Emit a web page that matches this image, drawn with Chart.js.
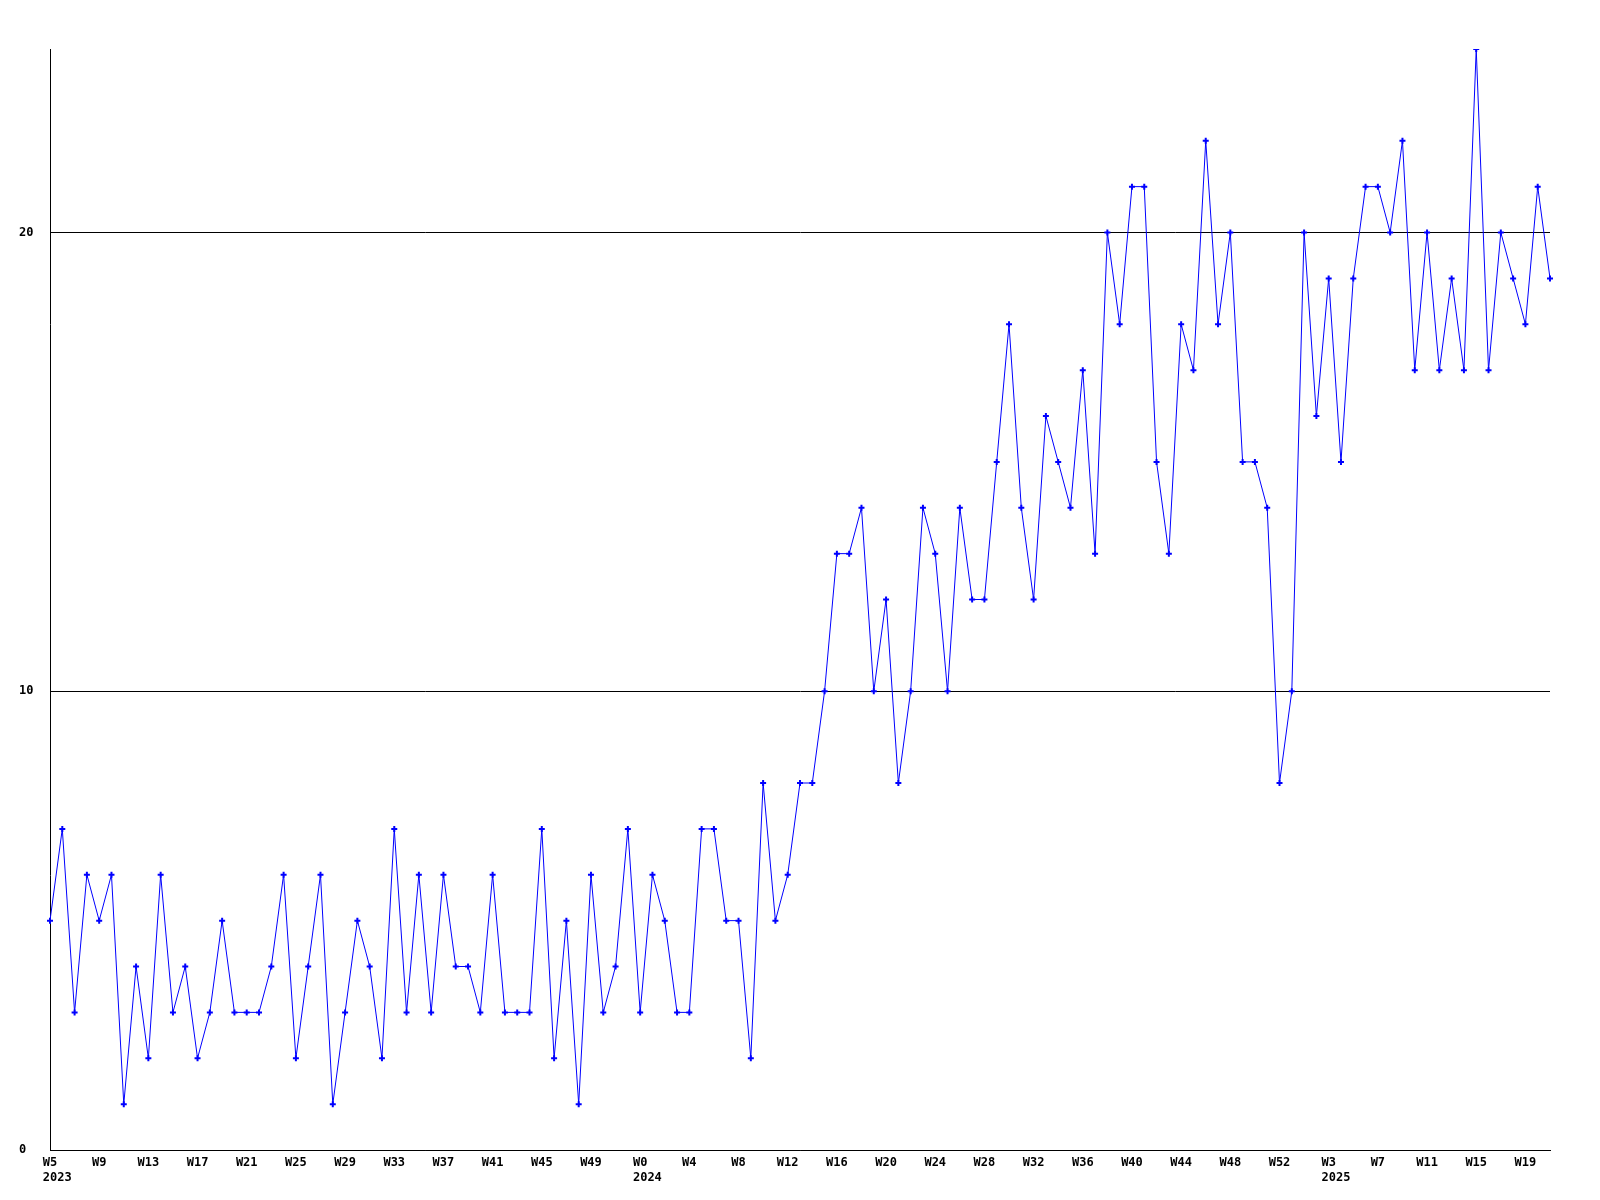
<!DOCTYPE html>
<html>
<head>
<meta charset="utf-8">
<script src="https://cdn.jsdelivr.net/npm/chart.js@4"></script>
<style>
  html, body { margin: 0; padding: 0; background: #fff; }
  #wrap { width: 1600px; height: 1200px; }
</style>
</head>
<body>
<div id="wrap"><canvas id="chart" width="1600" height="1200"></canvas></div>
<script>
// weekly counts, one array per year
const years = [2023, 2024, 2025];
const firstWeek = [5, 0, 0];
const lastWeek = [52, 52, 21];

const counts2023 = [5, 7, 3, 6, 5, 6, 1, 4, 2, 6, 3, 4, 2, 3, 5, 3, 3, 3, 4, 6,
  2, 4, 6, 1, 3, 5, 4, 2, 7, 3, 6, 3, 6, 4, 4, 3, 6, 3, 3, 3,
  7, 2, 5, 1, 6, 3, 4, 7];
const counts2024 = [3, 6, 5, 3, 3, 7, 7, 5, 5, 2, 8, 5, 6, 8, 8, 10, 13, 13, 14, 10,
  12, 8, 10, 14, 13, 10, 14, 12, 12, 15, 18, 14, 12, 16, 15, 14, 17, 13, 20, 18,
  21, 21, 15, 13, 18, 17, 22, 18, 20, 15, 15, 14, 8];
const counts2025 = [10, 20, 16, 19, 15, 19, 21, 21, 20, 22, 17, 20, 17, 19, 17, 24,
  17, 20, 19, 18, 21, 19];

const yTicks = [0, 10, 20];
const yMax = 24;

// build category labels
const labels = [];
const yearOf = [];
years.forEach((y, k) => {
  for (let w = firstWeek[k]; w <= lastWeek[k]; w++) {
    labels.push('W' + w);
    yearOf.push(y);
  }
});
const values = [...counts2023, ...counts2024, ...counts2025];

const font = { family: '"DejaVu Sans Mono", monospace', size: 12, weight: 'bold' };

new Chart(document.getElementById('chart'), {
  type: 'line',
  data: {
    labels: labels,
    datasets: [
      {
        data: values,
        borderColor: '#0000ff',
        backgroundColor: '#0000ff',
        borderWidth: 1,
        pointStyle: 'cross',
        pointRadius: 3,
        pointBorderWidth: 2,
        tension: 0,
      },
    ],
  },
  options: {
    responsive: false,
    animation: false,
    layout: { padding: { left: 19, top: 49, right: 50, bottom: 0 } },
    plugins: { legend: { display: false }, tooltip: { enabled: false } },
    scales: {
      x: {
        offset: false,
        grid: { display: false, drawTicks: false },
        border: { display: true, color: '#000', width: 1 },
        afterFit: scale => { scale.height = 50; },
        ticks: {
          autoSkip: false,
          maxRotation: 0,
          padding: 6,
          color: '#000',
          font: font,
          callback: (v, i) => {
            if (i % 4 !== 0) return '';
            // year sits under the first shown week of that year, left-ish aligned
            if (i < 4 || yearOf[i - 4] !== yearOf[i]) return [labels[i], '  ' + yearOf[i]];
            return labels[i];
          },
        },
      },
      y: {
        min: 0,
        max: yMax,
        bounds: 'data',
        afterFit: scale => { scale.width = 31; },
        afterBuildTicks: scale => {
          scale.ticks = yTicks.map(v => ({ value: v }));
        },
        grid: { color: '#000', lineWidth: 1, drawTicks: false },
        border: { display: true, color: '#000', width: 1 },
        ticks: {
          crossAlign: 'far',
          padding: 0,
          color: '#000',
          font: font,
        },
      },
    },
  },
});
</script>
</body>
</html>
